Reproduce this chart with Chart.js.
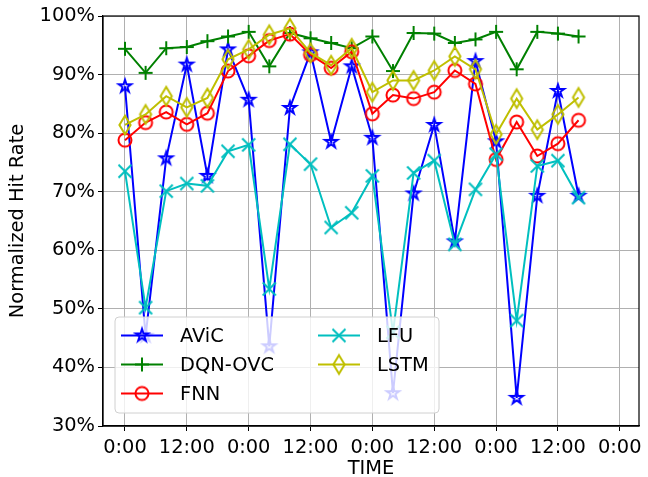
<!DOCTYPE html>
<html>
<head>
<meta charset="utf-8">
<script src="https://cdn.jsdelivr.net/npm/chart.js@4.4.1/dist/chart.umd.min.js"></script>
<style>
  html, body { margin: 0; padding: 0; background: #fff; }
  #c { display: block; }
</style>
</head>
<body>
<canvas id="c" width="648" height="477"></canvas>
<script>
// ---- data ----
const timeHours = [0, 4, 8, 12, 16, 20, 24, 28, 32, 36, 40, 44, 48, 52, 56, 60, 64, 68, 72, 76, 80, 84, 88];
const seriesNames = ['AViC', 'DQN-OVC', 'FNN', 'LFU', 'LSTM'];
const avic   = [88.0, 45.4, 75.7, 91.7, 72.7, 94.3, 85.7, 43.6, 84.3, 93.8, 78.5, 91.4, 79.2, 35.6, 69.7, 81.4, 61.5, 92.3, 78.6, 34.8, 69.3, 87.2, 69.3];
const dqnOvc = [94.4, 90.3, 94.5, 94.7, 95.7, 96.5, 97.3, 91.4, 97.1, 96.2, 95.4, 94.5, 96.5, 90.6, 97.1, 97.0, 95.4, 96.0, 97.3, 90.9, 97.3, 97.0, 96.5];
const fnn    = [78.8, 81.8, 83.6, 81.5, 83.4, 90.6, 93.2, 95.8, 96.9, 93.4, 91.1, 93.9, 83.3, 86.5, 85.9, 87.0, 90.7, 88.4, 75.5, 81.9, 76.1, 78.2, 82.2];
const lfu    = [73.5, 50.2, 70.1, 71.4, 71.0, 76.9, 78.0, 53.4, 78.1, 74.7, 63.9, 66.4, 72.7, 46.0, 73.2, 75.3, 61.0, 70.4, 76.4, 48.0, 74.4, 75.3, 69.0];
const lstm   = [81.4, 83.2, 86.3, 84.4, 86.0, 92.6, 94.3, 96.8, 97.9, 93.7, 91.6, 94.5, 87.0, 89.0, 89.0, 90.7, 93.1, 90.9, 79.8, 85.9, 80.6, 83.2, 86.1];
const xTickValues = [0, 12, 24, 36, 48, 60, 72, 84, 96];
const xTickLabels = ['0:00', '12:00', '0:00', '12:00', '0:00', '12:00', '0:00', '12:00', '0:00'];
const yTickValues = [30, 40, 50, 60, 70, 80, 90, 100];

// ---- styles ----
const FONT = '"DejaVu Sans", sans-serif';
const FS = 19.4;
const colors = ['#0000ff', '#008000', '#ff0000', '#00bfbf', '#bfbf00'];
const markerTypes = ['star', 'plus', 'circle', 'x', 'thinDiamond'];

function makeMarker(type, color) {
  const s = 26, c = s / 2;
  const cv = document.createElement('canvas');
  cv.width = s; cv.height = s;
  const g = cv.getContext('2d');
  g.strokeStyle = color;
  g.lineWidth = 2;
  g.lineJoin = 'miter';
  g.beginPath();
  if (type === 'star') {
    const R = 6.6, r = R * 0.381966;
    for (let i = 0; i < 10; i++) {
      const rad = i % 2 === 0 ? R : r;
      const a = -Math.PI / 2 + i * Math.PI / 5;
      const px = c + rad * Math.cos(a), py = c + rad * Math.sin(a);
      if (i === 0) g.moveTo(px, py); else g.lineTo(px, py);
    }
    g.closePath();
  } else if (type === 'plus') {
    const h = 7;
    g.moveTo(c - h, c); g.lineTo(c + h, c);
    g.moveTo(c, c - h); g.lineTo(c, c + h);
  } else if (type === 'circle') {
    g.arc(c, c, 6.5, 0, Math.PI * 2);
  } else if (type === 'x') {
    const h = 6.5;
    g.moveTo(c - h, c - h); g.lineTo(c + h, c + h);
    g.moveTo(c - h, c + h); g.lineTo(c + h, c - h);
  } else if (type === 'thinDiamond') {
    const hh = 9.3, hw = 5.6;
    g.moveTo(c, c - hh); g.lineTo(c + hw, c); g.lineTo(c, c + hh); g.lineTo(c - hw, c);
    g.closePath();
  }
  g.stroke();
  return cv;
}
const markers = markerTypes.map((t, i) => makeMarker(t, colors[i]));

const seriesValues = [avic, dqnOvc, fnn, lfu, lstm];
const datasets = seriesValues.map((vals, i) => ({
  label: seriesNames[i],
  data: vals.map((v, k) => ({ x: timeHours[k], y: v })),
  borderColor: colors[i],
  backgroundColor: colors[i],
  borderWidth: 2,
  pointStyle: markers[i],
  pointRadius: 7,
  pointHoverRadius: 7,
  tension: 0,
  fill: false,
  order: 5 - i
}));

// ---- plugins ----
const framePlugin = {
  id: 'frame',
  afterDatasetsDraw(chart) {
    const { ctx, chartArea: a } = chart;
    ctx.save();
    ctx.strokeStyle = '#000';
    ctx.lineWidth = 1.2;
    ctx.strokeRect(a.left, a.top, a.right - a.left, a.bottom - a.top);
    ctx.restore();
  }
};

const legendPlugin = {
  id: 'customLegend',
  afterDraw(chart) {
    const ctx = chart.ctx;
    ctx.save();
    const bx = 115, by = 317, bw = 324, bh = 96, rr = 4;
    ctx.beginPath();
    ctx.moveTo(bx + rr, by);
    ctx.arcTo(bx + bw, by, bx + bw, by + bh, rr);
    ctx.arcTo(bx + bw, by + bh, bx, by + bh, rr);
    ctx.arcTo(bx, by + bh, bx, by, rr);
    ctx.arcTo(bx, by, bx + bw, by, rr);
    ctx.closePath();
    ctx.fillStyle = 'rgba(255,255,255,0.8)';
    ctx.fill();
    ctx.strokeStyle = '#d0d0d0';
    ctx.lineWidth = 1;
    ctx.stroke();

    const cols = [{ x0: 121, x1: 163, tx: 180 }, { x0: 318, x1: 360, tx: 377 }];
    const rows = [335.5, 364.5, 393.5];
    ctx.font = FS + 'px ' + FONT;
    ctx.textBaseline = 'middle';
    ctx.textAlign = 'left';
    seriesNames.forEach((name, i) => {
      const col = cols[i < 3 ? 0 : 1];
      const y = rows[i < 3 ? i : i - 3];
      ctx.strokeStyle = colors[i];
      ctx.lineWidth = 2;
      ctx.beginPath();
      ctx.moveTo(col.x0, y); ctx.lineTo(col.x1, y);
      ctx.stroke();
      const m = markers[i];
      ctx.drawImage(m, (col.x0 + col.x1) / 2 - m.width / 2, y - m.height / 2);
      ctx.fillStyle = '#000';
      ctx.fillText(name, col.tx, y + 1);
    });
    ctx.restore();
  }
};

new Chart(document.getElementById('c'), {
  type: 'line',
  data: { datasets },
  options: {
    responsive: false,
    animation: false,
    devicePixelRatio: 1,
    layout: { padding: { left: 0, right: 1, top: 16, bottom: 0 } },
    plugins: { legend: { display: false }, tooltip: { enabled: false } },
    scales: {
      x: {
        type: 'linear',
        min: -4.26,
        max: 99.73,
        afterBuildTicks(scale) { scale.ticks = xTickValues.map(v => ({ value: v })); },
        afterFit(scale) { scale.height = 51; scale.paddingLeft = 0; scale.paddingRight = 0; },
        ticks: {
          autoSkip: false, maxRotation: 0, minRotation: 0,
          padding: 5,
          color: '#000',
          font: { family: FONT, size: FS },
          callback: (v, i) => xTickLabels[i]
        },
        grid: { color: '#b0b0b0', lineWidth: 1, tickLength: 5, tickColor: '#000', drawTicks: true },
        border: { display: true, color: '#000', width: 1.2 },
        title: {
          display: true, text: 'TIME', color: '#000',
          font: { family: FONT, size: FS, lineHeight: 0.8 },
          padding: { top: 0, bottom: 0 }
        }
      },
      y: {
        type: 'linear',
        min: 30,
        max: 100,
        afterBuildTicks(scale) { scale.ticks = yTickValues.map(v => ({ value: v })); },
        afterFit(scale) { scale.width = 103; scale.paddingTop = 0; scale.paddingBottom = 0; },
        ticks: {
          padding: 3,
          color: '#000',
          font: { family: FONT, size: FS },
          callback: v => v + '%'
        },
        grid: { color: '#b0b0b0', lineWidth: 1, tickLength: 5, tickColor: '#000', drawTicks: true },
        border: { display: true, color: '#000', width: 1.2 },
        title: {
          display: true, text: 'Normalized Hit Rate', color: '#000',
          font: { family: FONT, size: FS, lineHeight: 1.2 },
          padding: { top: 6, bottom: 0 }
        }
      }
    }
  },
  plugins: [framePlugin, legendPlugin]
});
</script>
</body>
</html>
